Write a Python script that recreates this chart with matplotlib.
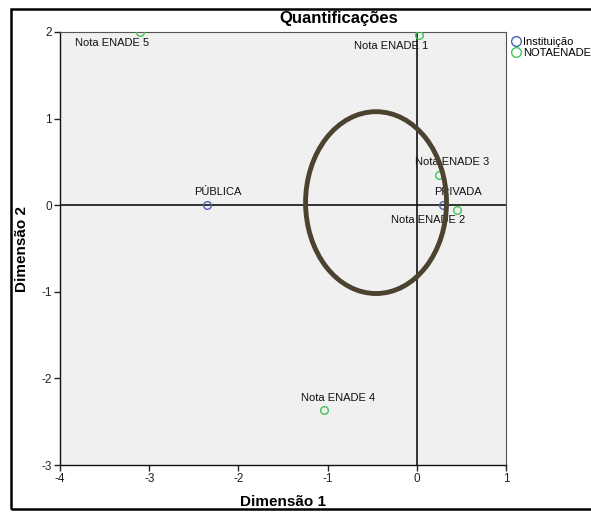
import matplotlib
matplotlib.use("Agg")
import matplotlib.pyplot as plt
from matplotlib.patches import Ellipse, Rectangle
from matplotlib.lines import Line2D

plt.rcParams['font.family'] = ['Liberation Sans', 'DejaVu Sans']
plt.rcParams['axes.unicode_minus'] = False

# Category quantifications (object scores)
inst_labels = ["PÚBLICA", "PRIVADA"]
inst_x = [-2.35, 0.29]
inst_y = [0.00, 0.00]

nota_labels = ["Nota ENADE 1", "Nota ENADE 2", "Nota ENADE 3", "Nota ENADE 4", "Nota ENADE 5"]
nota_x = [0.03, 0.45, 0.25, -1.04, -3.10]
nota_y = [1.96, -0.06, 0.35, -2.37, 2.00]

# label offsets in pixels (dx, dy) relative to each point
inst_offsets = [(11, 13), (15, 13)]
nota_offsets = [(-28, -11), (-29, -10), (13, 13), (14, 12), (-28, -11)]

x_ticks = [-4, -3, -2, -1, 0, 1]
y_ticks = [-3, -2, -1, 0, 1, 2]

# highlighted region
ell_center = (-0.457, 0.03)
ell_width = 1.58
ell_height = 2.10

W, H = 591, 514
fig = plt.figure(figsize=(W / 100, H / 100), dpi=100)
fig.patch.set_facecolor("white")

left, right, top, bottom = 60, 506, 32, 465
ax = fig.add_axes([left / W, 1 - bottom / H, (right - left) / W, (bottom - top) / H])
ax.set_facecolor("#f0f0f0")
ax.set_xlim(-4, 1)
ax.set_ylim(-3, 2)
ax.set_xticks(x_ticks)
ax.set_yticks(y_ticks)
ax.tick_params(direction="out", length=4, width=1, labelsize=8.5, colors="#222222", pad=2)
for s in ["left", "bottom"]:
    ax.spines[s].set_color("#111111")
    ax.spines[s].set_linewidth(1.0)
for s in ["top", "right"]:
    ax.spines[s].set_color("#555555")
    ax.spines[s].set_linewidth(0.8)

ax.axhline(0, color="#111111", lw=1.2, zorder=1)
ax.axvline(0, color="#111111", lw=1.2, zorder=1)

blue = "#4a62b5"
green = "#3ec45a"

ax.plot(inst_x, inst_y, linestyle="none", marker="o", ms=5.5, mfc="none", mec=blue, mew=1.0, zorder=3)
ax.plot(nota_x, nota_y, linestyle="none", marker="o", ms=5.5, mfc="none", mec=green, mew=1.0, zorder=3)

for lab, x, y, (dx, dy) in zip(inst_labels, inst_x, inst_y, inst_offsets):
    ax.annotate(lab, (x, y), xytext=(dx * 0.72, dy * 0.72), textcoords="offset points",
                ha="center", va="center", fontsize=8, color="#111111", zorder=4)
for lab, x, y, (dx, dy) in zip(nota_labels, nota_x, nota_y, nota_offsets):
    ax.annotate(lab, (x, y), xytext=(dx * 0.72, dy * 0.72), textcoords="offset points",
                ha="center", va="center", fontsize=8, color="#111111", zorder=4)

ax.add_patch(Ellipse(ell_center, ell_width, ell_height, fill=False,
                     edgecolor="#4b4330", lw=3.5, zorder=5))

ax.set_xlabel("Dimensão 1", fontsize=11, fontweight="bold", va="center")
ax.set_ylabel("Dimensão 2", fontsize=11, fontweight="bold", va="center")
ax.xaxis.set_label_coords(0.5, (bottom - 502) / (bottom - top))
ax.yaxis.set_label_coords((22 - left) / (right - left), 0.5)

fig.text(339 / W, 1 - 19 / H, "Quantificações", ha="center", va="center",
         fontsize=12, fontweight="bold")

# outer frame
fig.patches.append(Rectangle((11 / W, 1 - 509 / H), 680 / W, 500 / H,
                             transform=fig.transFigure, fill=False,
                             edgecolor="black", lw=1.8))

handles = [
    Line2D([], [], linestyle="none", marker="o", ms=7, mfc="none", mec=blue, mew=1.0),
    Line2D([], [], linestyle="none", marker="o", ms=7, mfc="none", mec=green, mew=1.0),
]
fig.legend(handles, ["Instituição", "NOTAENADE"], loc="upper left",
           bbox_to_anchor=(505 / W, 1 - 30 / H), frameon=False, fontsize=8,
           handlelength=0.8, handletextpad=0.2, labelspacing=0.15, borderpad=0.1)

fig.savefig("out.png", dpi=100)
